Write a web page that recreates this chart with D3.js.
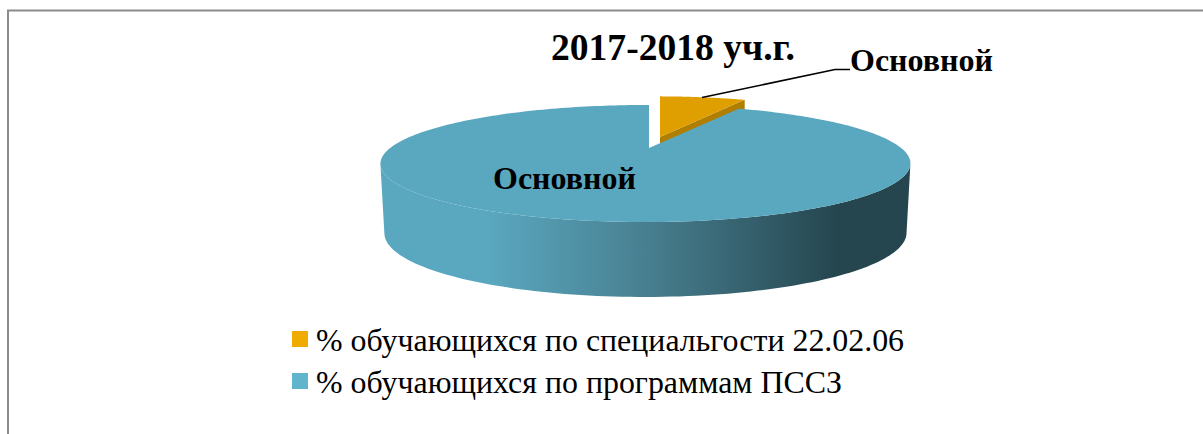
<!DOCTYPE html>
<html>
<head>
<meta charset="utf-8">
<script src="https://cdn.jsdelivr.net/npm/d3@7"></script>
<style>
  html, body { margin: 0; padding: 0; background: #fff; }
  svg { display: block; }
  text { font-family: "Liberation Serif", serif; fill: #000; }
</style>
</head>
<body>
<div id="chart"></div>
<script>
var chartTitle = "2017-2018 уч.г.";
var categories = ["% обучающихся по специальгости 22.02.06", "% обучающихся по программам ПССЗ"];
var values = [7.2, 92.8];
var dataLabels = ["Основной", "Основной"];
var topColors = ["#df9f00", "#5aa8c0"];
var swatchColors = ["#f0ab00", "#60b5cc"];

var width = 1203, height = 434;

var svg = d3.select("#chart").append("svg")
  .attr("width", width)
  .attr("height", height);

// Side wall shading, left to right
var defs = svg.append("defs");
var grad = defs.append("linearGradient")
  .attr("id", "wall")
  .attr("gradientUnits", "userSpaceOnUse")
  .attr("x1", 380).attr("x2", 911).attr("y1", 0).attr("y2", 0);
[[0, "#5aa8c0"], [0.2, "#5aa8c0"], [0.5, "#487f90"], [0.86, "#25464f"], [1, "#25464f"]]
  .forEach(function (s) {
    grad.append("stop").attr("offset", s[0]).attr("stop-color", s[1]);
  });

// Frame (only top and left fall inside the crop)
svg.append("path")
  .attr("d", "M8,434V10.5H1203")
  .attr("fill", "none")
  .attr("stroke", "#8c8c8c")
  .attr("stroke-width", 2);

// Perspective view of a flat disc: angle 0 is the far side, clockwise
function projector(cx, cy, R, k) {
  var p = 0.265, q = -0.013;
  return function (a) {
    var u = Math.sin(a), v = -Math.cos(a);
    var w = 1 - p * v - q * u;
    return [cx + (R * u) / w, cy + (k * v) / w];
  };
}

var pie = d3.pie().sort(null);
var arcs = pie(values);
var line = d3.line();

function arcPoints(project, d) {
  return d3.range(0, 241).map(function (i) {
    return project(d.startAngle + ((d.endAngle - d.startAngle) * i) / 240);
  });
}

// Orange slice, pulled away from the rest. Its wall is mostly hidden by the blue slice
var orange = arcs[0];
var orangeTop = projector(660, 137, 241, 51.4);
var orangePts = arcPoints(orangeTop, orange);
var orangeEnd = orangePts[orangePts.length - 1];

svg.append("path")
  .attr("d", line([[660, 137], orangeEnd, [orangeEnd[0], orangeEnd[1] + 60], [660, 197]]) + "Z")
  .attr("fill", "#b07e00");

svg.append("path")
  .attr("d", line([[660, 137]].concat(orangePts)) + "Z")
  .attr("fill", topColors[0]);

// Blue slice
var blue = arcs[1];
var blueTop = projector(649, 148, 255.5, 54.4);
var blueBottom = projector(649, 216, 251.7, 59.5);
var topPts = arcPoints(blueTop, blue);
var bottomPts = arcPoints(blueBottom, blue);

function frontEdge(pts) {
  var right = d3.greatestIndex(pts, function (d) { return d[0]; });
  var left = d3.leastIndex(pts, function (d) { return d[0]; });
  return pts.slice(right, left + 1);
}

svg.append("path")
  .attr("d", line(frontEdge(topPts).concat(frontEdge(bottomPts).reverse())) + "Z")
  .attr("fill", "url(#wall)");

svg.append("path")
  .attr("d", line([[649, 148]].concat(topPts)) + "Z")
  .attr("fill", topColors[1]);

// Title and labels
svg.append("text")
  .attr("x", 551).attr("y", 60)
  .attr("font-size", 37.6).attr("font-weight", "bold")
  .text(chartTitle);

svg.append("path")
  .attr("d", line([[702, 97.5], [835, 69.5], [850, 69.5]]))
  .attr("fill", "none")
  .attr("stroke", "#000")
  .attr("stroke-width", 1.5);

svg.append("text")
  .attr("x", 850).attr("y", 71)
  .attr("font-size", 32).attr("font-weight", "bold")
  .text(dataLabels[0]);

svg.append("text")
  .attr("x", 493).attr("y", 189)
  .attr("font-size", 32).attr("font-weight", "bold")
  .text(dataLabels[1]);

// Legend
var legendY = d3.scalePoint().domain(categories).range([351, 393]);

var legend = svg.selectAll(".legend-item")
  .data(categories)
  .enter()
  .append("g")
  .attr("class", "legend-item")
  .attr("transform", function (d) { return "translate(0," + legendY(d) + ")"; });

legend.append("rect")
  .attr("x", 292).attr("y", -20)
  .attr("width", 16).attr("height", 16)
  .attr("fill", function (d, i) { return swatchColors[i]; });

legend.append("text")
  .attr("x", 316)
  .attr("font-size", 31.9)
  .text(function (d) { return d; });
</script>
</body>
</html>
